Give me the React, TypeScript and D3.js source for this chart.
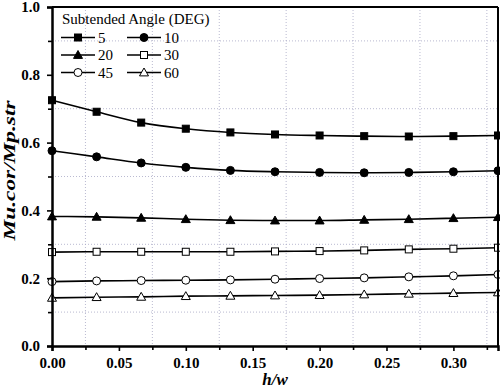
import { useEffect, useRef } from 'react';
import * as d3 from 'd3';

// h/w values (0 .. 1/3 in steps of 1/30)
const hw = [0, 1 / 30, 2 / 30, 3 / 30, 4 / 30, 5 / 30, 6 / 30, 7 / 30, 8 / 30, 9 / 30, 10 / 30];

const angle5 = [0.725, 0.691, 0.659, 0.641, 0.630, 0.624, 0.621, 0.619, 0.618, 0.619, 0.621];
const angle10 = [0.576, 0.558, 0.540, 0.527, 0.518, 0.514, 0.512, 0.511, 0.512, 0.514, 0.517];
const angle20 = [0.382, 0.381, 0.378, 0.374, 0.371, 0.370, 0.370, 0.372, 0.374, 0.377, 0.380];
const angle30 = [0.277, 0.278, 0.278, 0.278, 0.278, 0.279, 0.280, 0.282, 0.285, 0.287, 0.290];
const angle45 = [0.190, 0.192, 0.193, 0.194, 0.195, 0.197, 0.199, 0.201, 0.204, 0.207, 0.211];
const angle60 = [0.142, 0.144, 0.145, 0.147, 0.148, 0.149, 0.150, 0.152, 0.154, 0.156, 0.158];

const seriesNames = ['5', '10', '20', '30', '45', '60'];
const seriesValues = [angle5, angle10, angle20, angle30, angle45, angle60];
const seriesMarkers = ['square', 'circle', 'triangle', 'square', 'circle', 'triangle'];
const seriesFilled = [true, true, true, false, false, false];

const xTicks = [0, 0.05, 0.1, 0.15, 0.2, 0.25, 0.3];
const yTicks = [0, 0.2, 0.4, 0.6, 0.8, 1.0];

const SERIF = '"Liberation Serif", "DejaVu Serif", serif';

const App = () => {
    const ref = useRef<SVGSVGElement | null>(null);

    useEffect(() => {
        const W = 500, H = 391;
        const margin = { top: 7, right: 2, bottom: 45, left: 52 };
        const width = W - margin.left - margin.right;
        const height = H - margin.top - margin.bottom;

        const svg = d3.select(ref.current);
        svg.selectAll('*').remove();

        const g = svg.append('g').attr('transform', `translate(${margin.left},${margin.top})`);

        const x = d3.scaleLinear().domain([0, 1 / 3]).range([0, width]);
        const y = d3.scaleLinear().domain([0, 1]).range([height, 0]);

        const minorX = d3.range(0.025, 1 / 3, 0.05);
        const minorY = d3.range(0.1, 1, 0.2);

        // dotted grid at minor positions
        g.selectAll('.gx').data(minorX).enter().append('line')
            .attr('x1', d => x(d)).attr('x2', d => x(d))
            .attr('y1', 0).attr('y2', height)
            .attr('stroke', '#a9a9c6').attr('stroke-width', 1)
            .attr('stroke-dasharray', '1,2').attr('opacity', 0.8);
        g.selectAll('.gy').data(minorY).enter().append('line')
            .attr('y1', d => y(d)).attr('y2', d => y(d))
            .attr('x1', 0).attr('x2', width)
            .attr('stroke', '#a9a9c6').attr('stroke-width', 1)
            .attr('stroke-dasharray', '1,2').attr('opacity', 0.8);

        const line = d3.line<number>()
            .x((_, i) => x(hw[i]))
            .y(d => y(d))
            .curve(d3.curveMonotoneX);

        const drawMarker = (sel: any, type: string, filled: boolean, cx: number, cy: number) => {
            const fill = filled ? '#000' : '#fff';
            if (type === 'square') {
                sel.append('rect').attr('x', cx - 3.5).attr('y', cy - 3.5)
                    .attr('width', 7).attr('height', 7)
                    .attr('fill', fill).attr('stroke', '#000').attr('stroke-width', 1);
            } else if (type === 'circle') {
                sel.append('circle').attr('cx', cx).attr('cy', cy).attr('r', 4)
                    .attr('fill', fill).attr('stroke', '#000').attr('stroke-width', 1);
            } else {
                const s = 4.5;
                sel.append('path')
                    .attr('d', `M${cx},${cy - s}L${cx + s},${cy + s * 0.75}L${cx - s},${cy + s * 0.75}Z`)
                    .attr('fill', fill).attr('stroke', '#000').attr('stroke-width', 1);
            }
        };

        const plot = g.append('g');
        seriesValues.forEach((vals, si) => {
            plot.append('path').datum(vals)
                .attr('d', line)
                .attr('fill', 'none').attr('stroke', '#000').attr('stroke-width', 1.6);
            vals.forEach((v, i) => drawMarker(plot, seriesMarkers[si], seriesFilled[si], x(hw[i]), y(v)));
        });

        // frame top/right
        g.append('line').attr('x1', 0).attr('x2', width).attr('y1', 0).attr('y2', 0)
            .attr('stroke', '#000').attr('stroke-width', 2);
        g.append('line').attr('x1', width).attr('x2', width).attr('y1', 0).attr('y2', height)
            .attr('stroke', '#000').attr('stroke-width', 2);

        // axes
        const xAxis = g.append('g').attr('transform', `translate(0,${height})`)
            .call(d3.axisBottom(x).tickValues(xTicks).tickFormat(d3.format('.2f')).tickSize(5).tickPadding(6));
        g.append('g').attr('transform', `translate(0,${height})`)
            .call(d3.axisBottom(x).tickValues(minorX).tickFormat(() => '').tickSize(4))
            .call(a => a.select('.domain').remove())
            .selectAll('line').attr('stroke-width', 1.6);

        const yAxis = g.append('g')
            .call(d3.axisLeft(y).tickValues(yTicks).tickFormat(d3.format('.1f')).tickSize(5).tickPadding(7));
        g.append('g')
            .call(d3.axisLeft(y).tickValues(minorY).tickFormat(() => '').tickSize(4))
            .call(a => a.select('.domain').remove())
            .selectAll('line').attr('stroke-width', 1.6);

        [xAxis, yAxis].forEach(a => {
            a.attr('font-family', null);
            a.select('.domain').attr('stroke-width', 2.5);
            a.selectAll('.tick line').attr('stroke-width', 1.6);
            a.selectAll('text')
                .style('font-family', SERIF)
                .style('font-size', '15px').style('font-weight', 'bold').attr('fill', '#000');
        });

        // axis titles
        svg.append('text')
            .attr('x', margin.left + width / 2).attr('y', 385)
            .attr('text-anchor', 'middle')
            .style('font-family', SERIF)
            .style('font-size', '17px').style('font-weight', 'bold').style('font-style', 'italic')
            .text('h/w');
        svg.append('text')
            .attr('transform', `translate(15,${margin.top + height / 2 - 6}) rotate(-90)`)
            .attr('text-anchor', 'middle')
            .attr('textLength', 140).attr('lengthAdjust', 'spacingAndGlyphs')
            .style('font-family', SERIF)
            .style('font-size', '16px').style('font-weight', 'bold').style('font-style', 'italic')
            .text('Mu.cor/Mp.str');

        // legend
        const leg = svg.append('g');
        leg.append('text').attr('x', 62).attr('y', 24)
            .style('font-family', SERIF)
            .style('font-size', '15px').text('Subtended Angle (DEG)');
        const colX = [61, 127];
        const rowY = [37.5, 55, 72.5];
        seriesNames.forEach((name, i) => {
            const cx = colX[i % 2];
            const cy = rowY[Math.floor(i / 2)];
            leg.append('line').attr('x1', cx).attr('x2', cx + 34).attr('y1', cy).attr('y2', cy)
                .attr('stroke', '#000').attr('stroke-width', 1.6);
            drawMarker(leg, seriesMarkers[i], seriesFilled[i], cx + 17, cy);
            leg.append('text').attr('x', cx + 37).attr('y', cy + 5)
                .style('font-family', SERIF)
                .style('font-size', '15px').text(name);
        });
    }, []);

    return (
        <svg ref={ref} width={500} height={391}
            style={{ position: 'absolute', left: 0, top: 0, background: '#fff' }} />
    );
};

export default App;
